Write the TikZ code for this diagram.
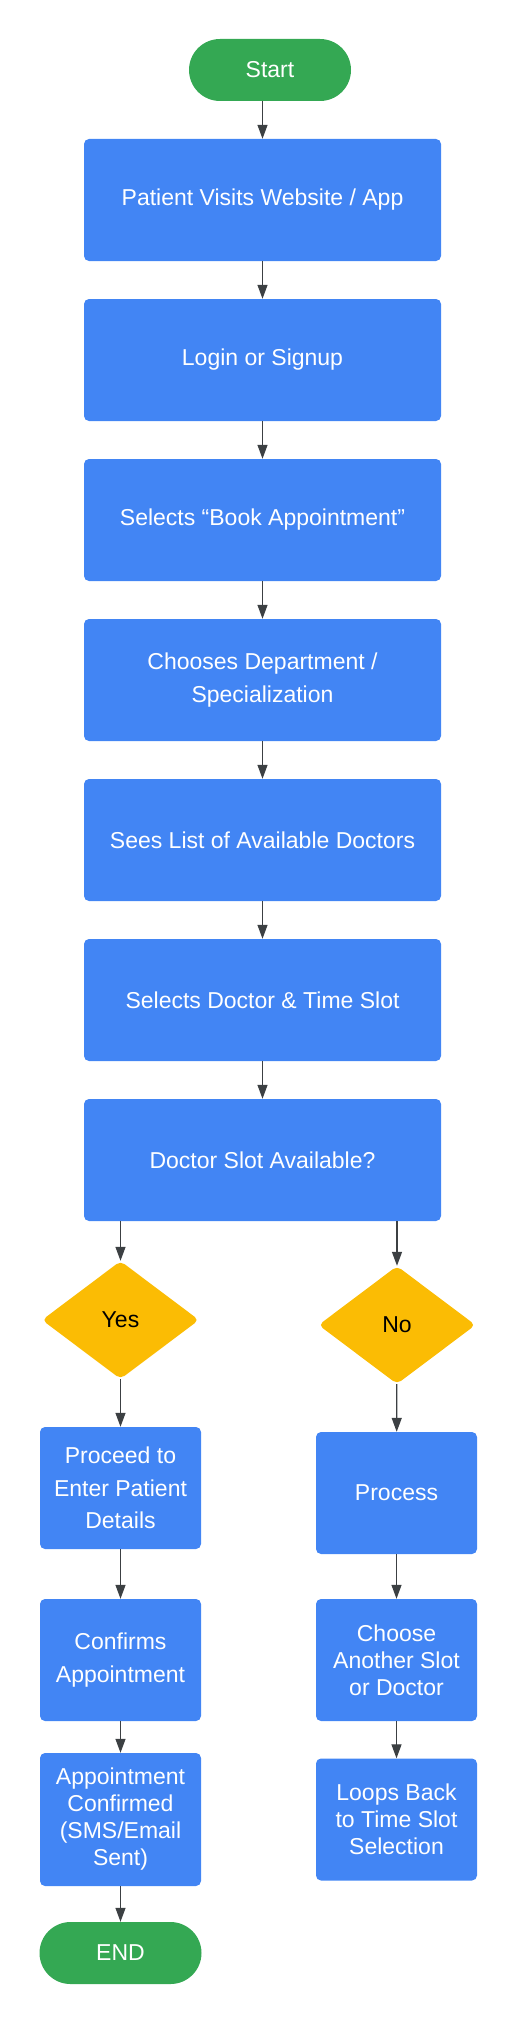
\documentclass[tikz,border=0pt]{standalone}
\usepackage{fontspec}
\setmainfont{Liberation Sans}
\usetikzlibrary{shapes.geometric, arrows.meta, positioning}
\definecolor{bxblue}{HTML}{4285F4}
\definecolor{bxgreen}{HTML}{34A853}
\definecolor{bxyellow}{HTML}{FBBC04}
\definecolor{lnkgray}{HTML}{3C4043}
\tikzset{
  procbox/.style={rectangle, rounded corners=5pt, fill=bxblue, text=white,
                  font=\fontsize{23}{32.5}\selectfont, align=center,
                  minimum width=#1, minimum height=122pt, inner sep=0pt},
  procbox/.default=357pt,
  tightlines/.style={font=\fontsize{23}{27}\selectfont},
  terminal/.style={rectangle, rounded corners=31pt, fill=bxgreen, text=white,
                   font=\fontsize{23}{28}\selectfont, align=center,
                   minimum width=162pt, minimum height=62pt, inner sep=0pt},
  decide/.style={diamond, rounded corners=5pt, fill=bxyellow, text=black,
                 font=\fontsize{23}{28}\selectfont, align=center,
                 minimum width=157pt, minimum height=118pt, inner sep=0pt},
  flow/.style={-{Triangle[length=14pt, width=10pt]}, line width=1.3pt, draw=lnkgray},
}
\begin{document}
\begin{tikzpicture}[x=1pt, y=-1pt]
  \useasboundingbox (0,0) rectangle (517,2020);
  \node[terminal] (start) at (270,70) {Start};
  \foreach \i/\y/\txt in {
    1/200/{Patient Visits Website / App},
    2/360/{Login or Signup},
    3/520/{Selects “Book Appointment”},
    4/680/{Chooses Department /\\Specialization},
    5/840/{Sees List of Available Doctors},
    6/1000/{Selects Doctor \& Time Slot},
    7/1160/{Doctor Slot Available?}}{
    \node[procbox] (m\i) at (262.5,\y) {\txt};
  }
  \draw[flow] (start.south -| m1.north) -- (m1.north);
  \foreach \a/\b in {1/2, 2/3, 3/4, 4/5, 5/6, 6/7}
    \draw[flow] (m\a) -- (m\b);

  % branches
  \node[decide] (yes) at (120.5,1320) {Yes};
  \node[decide] (no) at (397,1325) {No};
  \draw[flow] (m7.south -| yes.north) -- (yes.north);
  \draw[flow] (m7.south -| no.north) -- (no.north);

  % yes side
  \node[procbox=161pt] (proceed) at (120.5,1488) {Proceed to\\Enter Patient\\Details};
  \node[procbox=161pt] (confirms) at (120.5,1660) {Confirms\\Appointment};
  \node[procbox=161pt, tightlines, minimum height=133pt] (booked) at (120.5,1819.5) {Appointment\\Confirmed\\(SMS/Email\\Sent)};
  \node[terminal] (end) at (120.5,1953) {END};

  % no side
  \node[procbox=161pt] (process) at (396.5,1493) {Process};
  \node[procbox=161pt, tightlines] (another) at (396.5,1660) {Choose\\Another Slot\\or Doctor};
  \node[procbox=161pt, tightlines] (loopback) at (396.5,1819.5) {Loops Back\\to Time Slot\\Selection};

  \foreach \a/\b in {yes/proceed, proceed/confirms, confirms/booked, booked/end,
                     no/process, process/another, another/loopback}
    \draw[flow] (\a) -- (\b);
\end{tikzpicture}
\end{document}
